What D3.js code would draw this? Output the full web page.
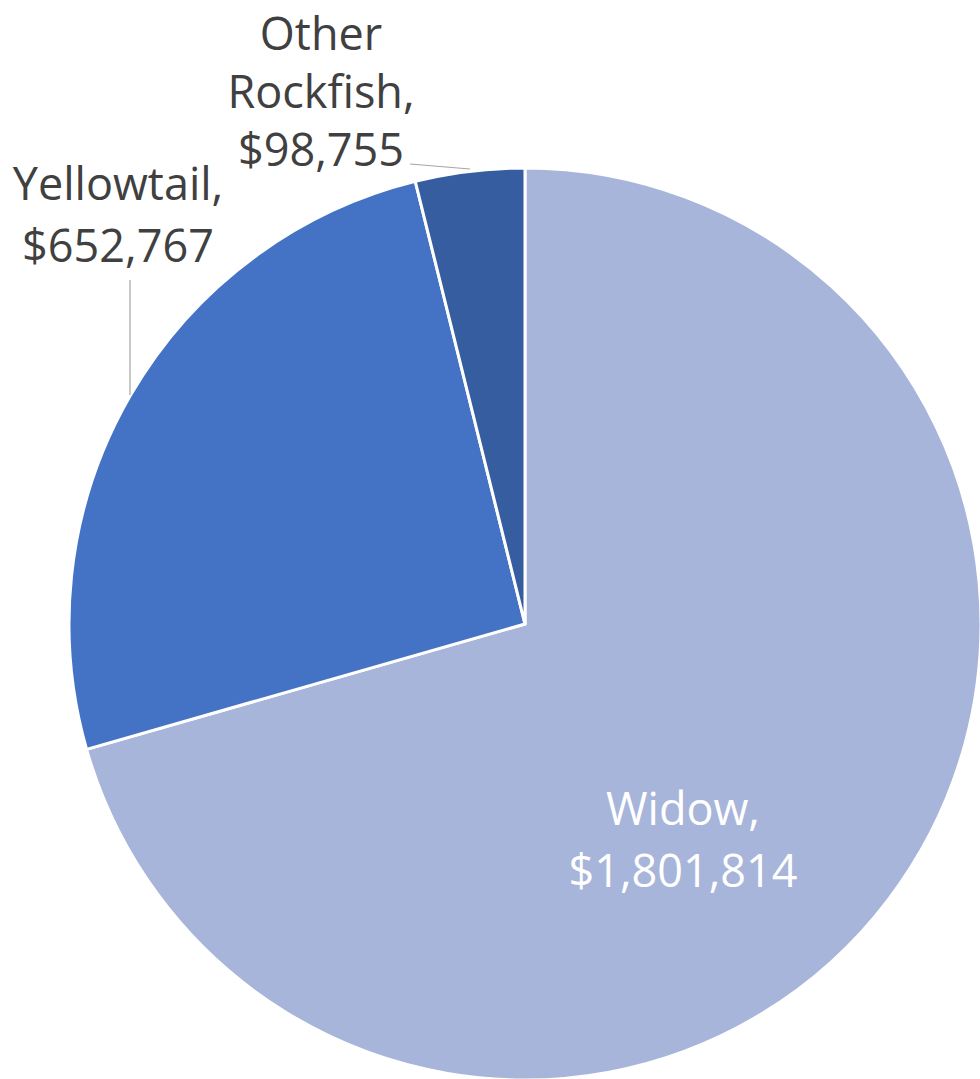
<!DOCTYPE html>
<html>
<head>
<meta charset="utf-8">
<script src="https://cdn.jsdelivr.net/npm/d3@7"></script>
<style>
  html, body { margin: 0; padding: 0; background: #fff; }
  svg { display: block; }
  text { font-family: "Open Sans", "Noto Sans", sans-serif; }
</style>
</head>
<body>
<svg id="chart" width="980" height="1079"></svg>
<script>
// Rockfish revenue by group
const categories = ["Widow", "Yellowtail", "Other Rockfish"];
const values = [1801814, 652767, 98755];
const colors = ["#A8B5DA", "#4472C4", "#355D9F"];

const width = 980, height = 1079;
const cx = 525, cy = 624, radius = 456;
const fontSize = 45;
const lineH = 62;

const svg = d3.select("#chart");
const g = svg.append("g").attr("transform", `translate(${cx},${cy})`);

const data = categories.map((c, i) => ({ name: c, value: values[i], color: colors[i] }));

const pie = d3.pie().value(d => d.value).sort(null);
const arcs = pie(data);
const arc = d3.arc().innerRadius(0).outerRadius(radius);

g.selectAll("path.slice")
  .data(arcs)
  .join("path")
  .attr("class", "slice")
  .attr("d", arc)
  .attr("fill", d => d.data.color)
  .attr("stroke", "#fff")
  .attr("stroke-width", 3)
  .attr("stroke-linejoin", "round");

const fmt = d3.format("$,");

// Label placement for each slice: anchor centre, first baseline and line step
// (page coords), plus leader line endpoints where the label sits outside the pie.
const labelSpec = {
  "Widow": { x: 683, y: 825, step: lineH, lines: ["Widow,"], fill: "#ffffff" },
  "Yellowtail": { x: 118, y: 200, step: lineH, lines: ["Yellowtail,"], fill: "#404040",
                  leader: [[130, 280], [130, 395]] },
  "Other Rockfish": { x: 321, y: 50, step: 58, lines: ["Other", "Rockfish,"], fill: "#404040",
                      leader: [[410, 164], [470, 169]] }
};

const labels = svg.append("g");
arcs.forEach(a => {
  const spec = labelSpec[a.data.name];
  const allLines = spec.lines.concat([fmt(a.data.value)]);
  const t = labels.append("text")
    .attr("text-anchor", "middle")
    .attr("font-size", fontSize)
    .attr("fill", spec.fill);
  allLines.forEach((ln, i) => {
    t.append("tspan").attr("x", spec.x).attr("y", spec.y + i * spec.step).text(ln);
  });
  if (spec.leader) {
    labels.append("path")
      .attr("d", d3.line()(spec.leader))
      .attr("stroke", "#a6a6a6")
      .attr("stroke-width", 1.2)
      .attr("fill", "none");
  }
});
</script>
</body>
</html>
